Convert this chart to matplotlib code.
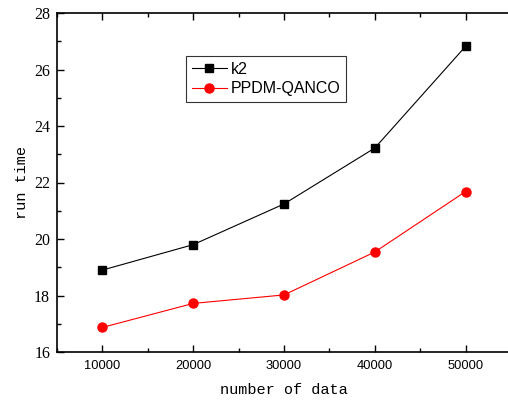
import matplotlib
matplotlib.use('Agg')
import matplotlib.pyplot as plt
from matplotlib.ticker import MultipleLocator

# data
n_data = [10000, 20000, 30000, 40000, 50000]
k2_time = [18.9, 19.8, 21.24, 23.22, 26.82]
ppdm_time = [16.87, 17.72, 18.02, 19.54, 21.68]

x_ticks = [10000, 20000, 30000, 40000, 50000]
y_ticks = [16, 18, 20, 22, 24, 26, 28]

fig = plt.figure(figsize=(5.08, 4.01), dpi=100)
ax = fig.add_axes([57 / 508, 49 / 401, 454 / 508, 339 / 401])

ax.plot(n_data, k2_time, color='black', linewidth=0.8, marker='s', markersize=5.8, label='k2')
ax.plot(n_data, ppdm_time, color='red', linewidth=0.8, marker='o', markersize=6.5, label='PPDM-QANCO')

ax.set_xlim(5000, 55000)
ax.set_ylim(16, 28)
ax.set_xticks(x_ticks)
ax.set_yticks(y_ticks)
ax.xaxis.set_minor_locator(MultipleLocator(5000))
ax.yaxis.set_minor_locator(MultipleLocator(1))

# right spine sits just outside the picture, so no right ticks show
ax.tick_params(which='both', direction='in', top=True, right=False, width=1)
ax.tick_params(which='major', length=5)
ax.tick_params(which='minor', length=3)
for s in ax.spines.values():
    s.set_linewidth(1.2)

for lbl in ax.get_xticklabels():
    lbl.set_fontfamily('Liberation Sans')
    lbl.set_fontsize(9.3)
for lbl in ax.get_yticklabels():
    lbl.set_fontfamily('Liberation Serif')
    lbl.set_fontsize(11.5)
ax.tick_params(axis='x', pad=6)
ax.tick_params(axis='y', pad=5)

ax.set_xlabel('number of data', fontfamily='Liberation Mono', fontsize=11, labelpad=8)
ax.set_ylabel('run time', fontfamily='Liberation Mono', fontsize=11, labelpad=4)

leg = ax.legend(loc='upper left', bbox_to_anchor=(186 / 508, 1 - 56 / 401),
                bbox_transform=fig.transFigure, prop={'family': 'Liberation Sans', 'size': 11.5},
                frameon=True, fancybox=False, handlelength=2.2, handletextpad=0.25,
                borderpad=0.35, labelspacing=0.3, borderaxespad=0)
leg.get_frame().set_edgecolor('black')
leg.get_frame().set_linewidth(0.8)

fig.savefig('out.png', dpi=100)
